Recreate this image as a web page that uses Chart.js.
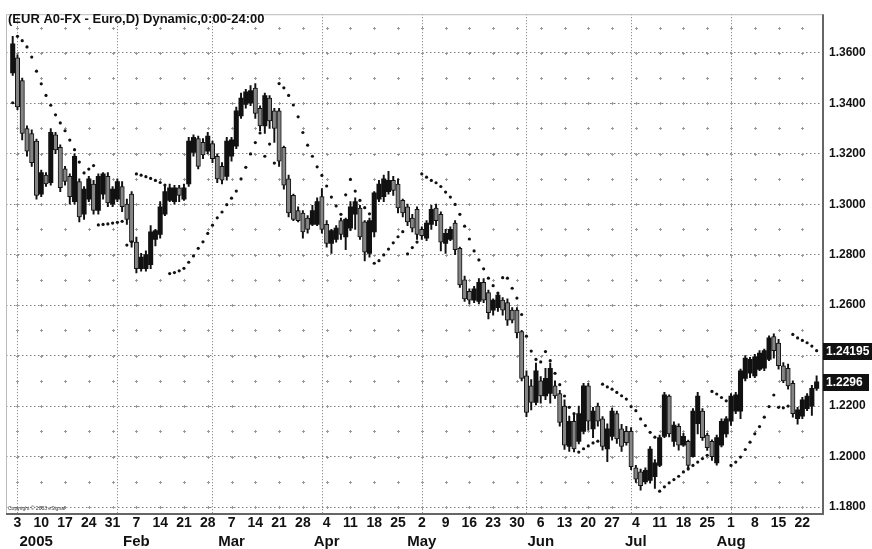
<!DOCTYPE html>
<html>
<head>
<meta charset="utf-8">
<script src="https://cdn.jsdelivr.net/npm/chart.js@4.4.1/dist/chart.umd.min.js"></script>
<style>
html,body{margin:0;padding:0;background:#fff;}
canvas{display:block;}
</style>
</head>
<body>
<canvas id="c" width="872" height="549"></canvas>
<script>
// daily bars, index 0 = 31 Dec 2004 ... 169 = 25 Aug 2005
var open = [1.3520,1.3580,1.3490,1.3300,1.3280,1.3250,1.3040,1.3115,1.3085,1.3275,
  1.3225,1.3140,1.3110,1.3010,1.3090,1.2960,1.3020,1.3080,1.2975,1.3040,
  1.3110,1.3000,1.3020,1.3070,1.3000,1.3040,1.2850,1.2745,1.2745,1.2760,
  1.2860,1.2880,1.2960,1.3015,1.3010,1.3065,1.3020,1.3080,1.3205,1.3260,
  1.3245,1.3210,1.3240,1.3190,1.3150,1.3110,1.3190,1.3230,1.3350,1.3395,
  1.3400,1.3460,1.3380,1.3310,1.3420,1.3370,1.3370,1.3225,1.3100,1.3035,
  1.2975,1.2965,1.2945,1.2920,1.2920,1.3030,1.2920,1.2845,1.2860,1.2935,
  1.2870,1.2905,1.2960,1.2985,1.2930,1.2805,1.2890,1.3020,1.3030,1.3050,
  1.3095,1.3080,1.3015,1.2990,1.2945,1.2980,1.2900,1.2865,1.2920,1.2985,
  1.2960,1.2845,1.2860,1.2925,1.2825,1.2700,1.2655,1.2620,1.2615,1.2690,
  1.2650,1.2580,1.2590,1.2620,1.2610,1.2580,1.2580,1.2495,1.2320,1.2280,
  1.2215,1.2300,1.2240,1.2250,1.2280,1.2250,1.2200,1.2040,1.2140,1.2060,
  1.2100,1.2280,1.2110,1.2200,1.2150,1.2030,1.2080,1.2170,1.2110,1.2100,
  1.2100,1.1955,1.1940,1.1900,1.1905,1.1920,1.1965,1.2080,1.2240,1.2060,
  1.2120,1.2045,1.2060,1.2000,1.2130,1.2180,1.2085,1.2060,1.1975,1.2045,
  1.2090,1.2140,1.2180,1.2180,1.2310,1.2330,1.2320,1.2345,1.2350,1.2385,
  1.2475,1.2450,1.2360,1.2350,1.2290,1.2150,1.2160,1.2190,1.2200,1.2270];
var high = [1.3665,1.3592,1.3500,1.3310,1.3295,1.3258,1.3135,1.3125,1.3300,1.3285,
  1.3235,1.3150,1.3120,1.3200,1.3100,1.3070,1.3110,1.3095,1.3120,1.3125,
  1.3125,1.3070,1.3100,1.3090,1.3020,1.3050,1.2870,1.2805,1.2815,1.2915,
  1.2900,1.3010,1.3075,1.3080,1.3075,1.3075,1.3080,1.3265,1.3275,1.3270,
  1.3260,1.3285,1.3250,1.3200,1.3165,1.3265,1.3265,1.3385,1.3440,1.3455,
  1.3470,1.3478,1.3390,1.3440,1.3430,1.3380,1.3380,1.3230,1.3115,1.3040,
  1.2990,1.2975,1.2955,1.2995,1.3025,1.3062,1.2935,1.2900,1.2915,1.2945,
  1.2945,1.3010,1.3025,1.2995,1.2935,1.2945,1.3050,1.3095,1.3115,1.3130,
  1.3110,1.3100,1.3020,1.3000,1.2960,1.2990,1.2910,1.2935,1.2995,1.3000,
  1.2970,1.2900,1.2910,1.2935,1.2830,1.2715,1.2665,1.2675,1.2705,1.2705,
  1.2660,1.2625,1.2650,1.2630,1.2625,1.2590,1.2590,1.2500,1.2340,1.2305,
  1.2370,1.2317,1.2350,1.2370,1.2300,1.2262,1.2225,1.2160,1.2165,1.2200,
  1.2290,1.2290,1.2195,1.2212,1.2158,1.2130,1.2192,1.2180,1.2128,1.2120,
  1.2115,1.1965,1.1950,1.1955,1.2040,1.1988,1.2085,1.2255,1.2245,1.2138,
  1.2130,1.2092,1.2065,1.2190,1.2255,1.2190,1.2092,1.2066,1.2085,1.2150,
  1.2158,1.2250,1.2255,1.2347,1.2400,1.2393,1.2405,1.2420,1.2426,1.2478,
  1.2486,1.2465,1.2372,1.2366,1.2300,1.2195,1.2235,1.2250,1.2282,1.2320];
var low = [1.3510,1.3375,1.3255,1.3190,1.3150,1.3020,1.3030,1.3070,1.3075,1.3200,
  1.3050,1.3075,1.3000,1.3000,1.2930,1.2940,1.3010,1.2960,1.2960,1.3020,
  1.2990,1.2990,1.3010,1.2970,1.2920,1.2830,1.2728,1.2735,1.2735,1.2745,
  1.2835,1.2865,1.2955,1.3010,1.3000,1.3010,1.3015,1.3070,1.3190,1.3140,
  1.3180,1.3200,1.3165,1.3085,1.3080,1.3095,1.3170,1.3220,1.3340,1.3380,
  1.3390,1.3340,1.3290,1.3280,1.3300,1.3245,1.3150,1.3060,1.2950,1.2935,
  1.2930,1.2865,1.2885,1.2915,1.2915,1.2885,1.2830,1.2805,1.2850,1.2860,
  1.2820,1.2895,1.2900,1.2860,1.2775,1.2790,1.2870,1.3010,1.3010,1.3040,
  1.3035,1.2965,1.2950,1.2915,1.2890,1.2860,1.2860,1.2855,1.2900,1.2915,
  1.2815,1.2805,1.2855,1.2800,1.2670,1.2615,1.2605,1.2610,1.2605,1.2610,
  1.2545,1.2560,1.2575,1.2560,1.2520,1.2530,1.2470,1.2300,1.2158,1.2185,
  1.2205,1.2212,1.2225,1.2212,1.2230,1.2120,1.2028,1.2020,1.2018,1.2050,
  1.2090,1.2105,1.2075,1.2120,1.2025,1.1980,1.2065,1.2052,1.2020,1.2045,
  1.1948,1.1898,1.1867,1.1892,1.1895,1.1874,1.1960,1.2075,1.2078,1.2040,
  1.2025,1.2040,1.1946,1.1998,1.2090,1.2064,1.2024,1.1985,1.1966,1.2038,
  1.2077,1.2123,1.2170,1.2150,1.2300,1.2313,1.2313,1.2340,1.2340,1.2380,
  1.2390,1.2346,1.2293,1.2267,1.2156,1.2128,1.2150,1.2182,1.2163,1.2262];
var close = [1.3635,1.3385,1.3280,1.3210,1.3165,1.3035,1.3125,1.3080,1.3285,1.3215,
  1.3065,1.3090,1.3030,1.3190,1.2950,1.3060,1.3100,1.2975,1.3110,1.3120,
  1.3005,1.3060,1.3090,1.2990,1.2940,1.2850,1.2745,1.2790,1.2800,1.2890,
  1.2895,1.2990,1.3050,1.3065,1.3065,1.3035,1.3065,1.3250,1.3265,1.3150,
  1.3195,1.3270,1.3180,1.3100,1.3095,1.3250,1.3255,1.3370,1.3420,1.3445,
  1.3450,1.3360,1.3310,1.3430,1.3330,1.3300,1.3170,1.3075,1.2965,1.2940,
  1.2935,1.2890,1.2900,1.2975,1.3010,1.2900,1.2845,1.2895,1.2905,1.2880,
  1.2940,1.2990,1.3010,1.2870,1.2810,1.2935,1.3045,1.3080,1.3100,1.3095,
  1.3055,1.2985,1.2965,1.2930,1.2905,1.2880,1.2875,1.2925,1.2980,1.2935,
  1.2850,1.2885,1.2900,1.2820,1.2680,1.2625,1.2620,1.2665,1.2690,1.2620,
  1.2570,1.2620,1.2640,1.2580,1.2540,1.2540,1.2490,1.2310,1.2175,1.2215,
  1.2340,1.2240,1.2310,1.2350,1.2240,1.2135,1.2045,1.2140,1.2030,1.2170,
  1.2280,1.2140,1.2180,1.2140,1.2040,1.2110,1.2180,1.2070,1.2040,1.2055,
  1.1960,1.1910,1.1885,1.1945,1.2030,1.1975,1.2075,1.2245,1.2090,1.2125,
  1.2045,1.2080,1.1965,1.2180,1.2240,1.2075,1.2035,1.2000,1.2075,1.2140,
  1.2150,1.2240,1.2245,1.2340,1.2390,1.2385,1.2395,1.2410,1.2420,1.2470,
  1.2420,1.2360,1.2300,1.2280,1.2170,1.2185,1.2225,1.2240,1.2270,1.2296];
// parabolic SAR dots
var sar = [1.3402,1.3665,1.3648,1.3623,1.3583,1.3527,1.3477,1.3431,1.3392,1.3354,
  1.3322,1.3291,1.3254,1.3216,1.3167,1.3124,1.3139,1.3153,1.2918,1.2920,
  1.2922,1.2925,1.2928,1.2932,1.2838,1.2851,1.3120,1.3115,1.3109,1.3102,
  1.3094,1.3086,1.3076,1.2725,1.2729,1.2736,1.2746,1.2770,1.2795,1.2825,
  1.2851,1.2884,1.2917,1.2946,1.2969,1.2998,1.3024,1.3052,1.3100,1.3146,
  1.3199,1.3244,1.3282,1.3190,1.3238,1.3163,1.3478,1.3461,1.3431,1.3393,
  1.3346,1.3284,1.3234,1.3190,1.3148,1.3114,1.3072,1.3028,1.2993,1.2960,
  1.3037,1.3098,1.3052,1.3015,1.2986,1.2962,1.2766,1.2776,1.2799,1.2822,
  1.2847,1.2871,1.2891,1.2803,1.2828,1.2850,1.3120,1.3107,1.3094,1.3085,
  1.3070,1.3048,1.3028,1.2999,1.2960,1.2913,1.2862,1.2815,1.2779,1.2744,
  1.2707,1.2677,1.2648,1.2709,1.2707,1.2667,1.2628,1.2563,1.2477,1.2418,
  1.2385,1.2375,1.2416,1.2380,1.2330,1.2285,1.2240,1.2195,1.2170,1.2018,
  1.2031,1.2042,1.2054,1.2061,1.2287,1.2276,1.2267,1.2254,1.2241,1.2228,
  1.2198,1.2182,1.2149,1.2123,1.2096,1.2077,1.1863,1.1880,1.1896,1.1909,
  1.1922,1.1939,1.1952,1.1965,1.1978,1.1992,1.2005,1.2258,1.2248,1.2234,
  1.2221,1.1965,1.1978,1.1998,1.2028,1.2057,1.2090,1.2119,1.2156,1.2198,
  1.2244,1.2195,1.2193,1.2200,1.2484,1.2470,1.2460,1.2451,1.2438,1.24195];

// axis labels
var weekIdx = [1,6,11,16,21,26,31,36,41,46,51,56,61,66,71,76,81,86,91,96,101,106,111,116,121,126,131,136,141,146,151,156,161,166];
var weekLabels = ['3','10','17','24','31','7','14','21','28','7','14','21','28','4','11','18','25','2','9','16','23','30','6','13','20','27','4','11','18','25','1','8','15','22'];
var monthIdx = [1,22,42,65,86,108,130,151];
var monthLabelIdx = [1,26,46,66,86,111,131,151];
var monthLabels = ['2005','Feb','Mar','Apr','May','Jun','Jul','Aug'];
var priceTicks = [1.18,1.20,1.22,1.24,1.26,1.28,1.30,1.32,1.34,1.36];
var minorLevels = [1.18,1.19,1.20,1.21,1.22,1.23,1.24,1.25,1.26,1.27,1.28,1.29,1.30,1.31,1.32,1.33,1.34,1.35,1.36,1.37];
var title = '(EUR A0-FX - Euro,D) Dynamic,0:00-24:00';

var wicks = [], bodies = [], bodyColors = [], bodyBorders = [], dots = [];
for (var i = 0; i < close.length; i++) {
  wicks.push({x: i, y: [low[i], high[i]]});
  bodies.push({x: i, y: [Math.min(open[i], close[i]), Math.max(open[i], close[i])]});
  var up = close[i] >= open[i];
  bodyColors.push(up ? '#111' : '#858585');
  bodyBorders.push(up ? 0 : 1);
  dots.push({x: i, y: sar[i]});
}

var boldFont = '"Liberation Sans", Arial, sans-serif';
var narrowFont = '"Liberation Sans Narrow", "Liberation Sans", Arial, sans-serif';

var backdrop = {
  id: 'backdrop',
  beforeDatasetsDraw: function(chart) {
    var ctx = chart.ctx, a = chart.chartArea, xs = chart.scales.x, ys = chart.scales.y;
    ctx.save();
    // month separators
    ctx.strokeStyle = '#777';
    ctx.lineWidth = 1;
    ctx.setLineDash([1, 2]);
    monthIdx.forEach(function(m) {
      var x = Math.round(xs.getPixelForValue(m)) + 0.5;
      ctx.beginPath();
      ctx.moveTo(x, a.top);
      ctx.lineTo(x, a.bottom + 2);
      ctx.stroke();
    });
    ctx.setLineDash([]);
    // weekly grid dots
    ctx.fillStyle = '#9a9a9a';
    weekIdx.forEach(function(w) {
      var x = Math.round(xs.getPixelForValue(w));
      minorLevels.forEach(function(v) {
        var y = Math.round(ys.getPixelForValue(v));
        ctx.fillRect(x - 1, y, 3, 1);
        ctx.fillRect(x, y - 1, 1, 3);
      });
    });
    ctx.restore();
  },
  afterDraw: function(chart) {
    var ctx = chart.ctx, a = chart.chartArea, xs = chart.scales.x, ys = chart.scales.y;
    ctx.save();
    // frame
    ctx.strokeStyle = '#bbb';
    ctx.lineWidth = 1;
    ctx.beginPath();
    ctx.moveTo(a.left + 0.5, a.bottom);
    ctx.lineTo(a.left + 0.5, a.top + 0.5);
    ctx.lineTo(a.right, a.top + 0.5);
    ctx.stroke();
    ctx.strokeStyle = '#666';
    ctx.lineWidth = 2;
    ctx.beginPath();
    ctx.moveTo(a.right + 1, a.top);
    ctx.lineTo(a.right + 1, a.bottom + 1);
    ctx.lineTo(a.left, a.bottom + 1);
    ctx.stroke();

    // title
    ctx.fillStyle = '#111';
    ctx.textBaseline = 'middle';
    ctx.textAlign = 'left';
    ctx.font = 'bold 13px ' + boldFont;
    ctx.fillText(title, 8, 19);

    // copyright
    ctx.font = '5px ' + boldFont;
    ctx.fillStyle = '#333';
    ctx.fillText('Copyright \u00a9 2003 eSignal', 8, a.bottom - 4);

    // month row
    ctx.fillStyle = '#111';
    ctx.font = 'bold 15px ' + narrowFont;
    monthLabels.forEach(function(t, k) {
      var x = xs.getPixelForValue(monthLabelIdx[k]);
      ctx.textAlign = k === 0 ? 'left' : 'center';
      ctx.fillText(t, k === 0 ? x + 2 : x, 542);
    });

    // last value boxes
    var boxes = [
      {v: sar[sar.length - 1], t: sar[sar.length - 1].toFixed(5), w: 50},
      {v: close[close.length - 1], t: close[close.length - 1].toFixed(4), w: 46}
    ];
    ctx.font = 'bold 12px ' + boldFont;
    ctx.textAlign = 'left';
    boxes.forEach(function(b) {
      var y = ys.getPixelForValue(b.v);
      ctx.fillStyle = '#111';
      ctx.fillRect(a.right + 1, Math.round(y) - 8, b.w, 17);
      ctx.fillStyle = '#fff';
      ctx.fillText(b.t, a.right + 4, y + 0.5);
    });
    ctx.restore();
  }
};

new Chart(document.getElementById('c').getContext('2d'), {
  type: 'bar',
  data: {
    datasets: [
      {type: 'scatter', data: dots, pointRadius: 1.6, pointBackgroundColor: '#111', pointBorderWidth: 0, order: 0},
      {type: 'bar', data: bodies, barThickness: 4.4, backgroundColor: bodyColors, borderColor: '#111', borderWidth: bodyBorders, borderSkipped: false, grouped: false, order: 1},
      {type: 'bar', data: wicks, barThickness: 1.3, backgroundColor: '#111', borderWidth: 0, grouped: false, order: 2}
    ]
  },
  options: {
    responsive: false,
    animation: false,
    events: [],
    layout: {padding: {left: 6, top: 11, right: 0, bottom: 0}},
    plugins: {legend: {display: false}, tooltip: {enabled: false}},
    scales: {
      x: {
        type: 'linear',
        min: -1.41,
        max: 170.13,
        offset: false,
        grid: {display: false, drawTicks: false, tickLength: 0},
        border: {display: false},
        afterBuildTicks: function(s) { s.ticks = weekIdx.map(function(v) { return {value: v}; }); },
        afterFit: function(s) { s.height = 36; },
        ticks: {
          autoSkip: false,
          maxRotation: 0,
          padding: 2,
          color: '#111',
          font: {family: narrowFont, size: 14, weight: 'bold'},
          callback: function(v, i) { return weekLabels[i]; }
        }
      },
      y: {
        position: 'right',
        min: 1.17764,
        max: 1.37528,
        grid: {color: '#808080', lineWidth: 1, drawTicks: false},
        border: {display: false, dash: [1.5, 2.5]},
        afterBuildTicks: function(s) { s.ticks = priceTicks.map(function(v) { return {value: v}; }); },
        afterFit: function(s) { s.width = 50; },
        ticks: {
          padding: 7,
          color: '#111',
          font: {family: boldFont, size: 12, weight: 'bold'},
          callback: function(v) { return v.toFixed(4); }
        }
      }
    }
  },
  plugins: [backdrop]
});
</script>
</body>
</html>
